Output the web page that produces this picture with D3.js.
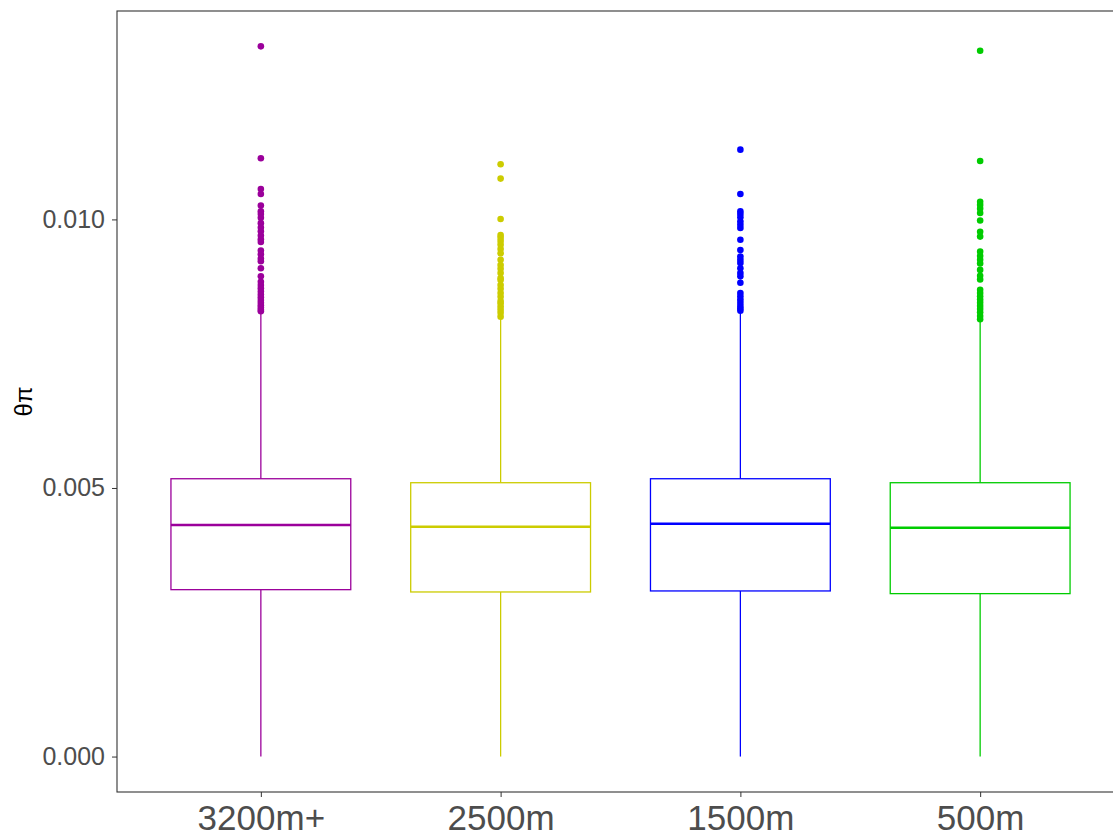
<!DOCTYPE html>
<html>
<head>
<meta charset="utf-8">
<script src="https://cdn.jsdelivr.net/npm/d3@7"></script>
<style>
  body { margin: 0; background: #fff; }
  text { font-family: "Liberation Sans", Arial, sans-serif; }
</style>
</head>
<body>
<div id="content"></div>
<script>
// box summary values
const categories = ["3200m+", "2500m", "1500m", "500m"];
const colors = ["#9b009b", "#cccc00", "#0000ff", "#00cc00"];
const q1 = [0.003107, 0.003064, 0.003083, 0.003033];
const medians = [0.004311, 0.004279, 0.004335, 0.004260];
const q3 = [0.005172, 0.005098, 0.005172, 0.005098];
const whiskLow = [0, 0, 0, 0];
const whiskHigh = [0.00826, 0.00816, 0.00828, 0.00811];

const outliers3200 = [0.013222, 0.011139, 0.010567, 0.010474, 0.010257, 0.01015, 0.01010, 0.01003,
  0.00993, 0.00985, 0.00978, 0.00970, 0.00963, 0.00958, 0.00942, 0.00935, 0.00927, 0.00922,
  0.00909, 0.00894, 0.00884, 0.00878, 0.00872, 0.00866, 0.00860, 0.00855, 0.00850, 0.00845,
  0.00840, 0.00836, 0.00832, 0.00829];
const outliers2500 = [0.011027, 0.010760, 0.010009, 0.00971, 0.00966, 0.00960, 0.00953, 0.00945,
  0.00937, 0.00925, 0.00915, 0.00908, 0.00900, 0.00891, 0.00887, 0.00878, 0.00871, 0.00863,
  0.00856, 0.00848, 0.00844, 0.00838, 0.00832, 0.00826, 0.00819];
const outliers1500 = [0.011299, 0.010474, 0.01015, 0.01010, 0.01004, 0.00996, 0.00990, 0.00984,
  0.00962, 0.00943, 0.00931, 0.00925, 0.00919, 0.00909, 0.00900, 0.00894, 0.00882, 0.00863,
  0.00857, 0.00851, 0.00845, 0.00839, 0.00834, 0.00830];
const outliers500 = [0.013141, 0.011088, 0.01033, 0.01027, 0.01020, 0.01012, 0.00998, 0.00977,
  0.00968, 0.00940, 0.00932, 0.00925, 0.00918, 0.00906, 0.00895, 0.00888, 0.00869, 0.00863,
  0.00857, 0.00851, 0.00845, 0.00839, 0.00833, 0.00827, 0.00820, 0.00814];
const outliers = [outliers3200, outliers2500, outliers1500, outliers500];

const yTicks = [0, 0.005, 0.010];

const w = 1113, h = 838;
const padL = 117, padR = 1124, padT = 11, padB = 792;

const boxes = categories.map((c, i) => ({
  cat: c, color: colors[i], q1: q1[i], med: medians[i], q3: q3[i],
  lo: whiskLow[i], hi: whiskHigh[i], out: outliers[i]
}));

const x = d3.scalePoint().domain(categories).range([padL, padR]).padding(0.6);
const y = d3.scaleLinear().domain([-0.00066, 0.01388]).range([padB, padT]);
const bw = x.step() * 0.75;

const svg = d3.select("#content").append("svg").attr("width", w).attr("height", h);

const g = svg.selectAll("g.box").data(boxes).enter().append("g").attr("class", "box");

// whiskers
g.append("line").attr("x1", d => x(d.cat)).attr("x2", d => x(d.cat))
  .attr("y1", d => y(d.q3)).attr("y2", d => y(d.hi))
  .attr("stroke", d => d.color).attr("stroke-width", 1.3);
g.append("line").attr("x1", d => x(d.cat)).attr("x2", d => x(d.cat))
  .attr("y1", d => y(d.q1)).attr("y2", d => y(d.lo))
  .attr("stroke", d => d.color).attr("stroke-width", 1.3);

// box
g.append("rect")
  .attr("x", d => x(d.cat) - bw / 2).attr("width", bw)
  .attr("y", d => y(d.q3)).attr("height", d => y(d.q1) - y(d.q3))
  .attr("fill", "#fff").attr("stroke", d => d.color).attr("stroke-width", 1.3);

// median
g.append("line")
  .attr("x1", d => x(d.cat) - bw / 2).attr("x2", d => x(d.cat) + bw / 2)
  .attr("y1", d => y(d.med)).attr("y2", d => y(d.med))
  .attr("stroke", d => d.color).attr("stroke-width", 2.6);

// outliers
g.selectAll("circle").data(d => d.out.map(v => ({ v: v, cat: d.cat, color: d.color })))
  .enter().append("circle")
  .attr("cx", d => x(d.cat)).attr("cy", d => y(d.v)).attr("r", 3.3)
  .attr("fill", d => d.color);

// panel border
svg.append("rect").attr("x", padL).attr("y", padT)
  .attr("width", padR - padL).attr("height", padB - padT)
  .attr("fill", "none").attr("stroke", "#333").attr("stroke-width", 1.1);

// axes
const yAxis = d3.axisLeft(y).tickValues(yTicks).tickFormat(d3.format(".3f"))
  .tickSize(5).tickPadding(7);
const ya = svg.append("g").attr("transform", `translate(${padL},0)`).call(yAxis);
ya.select(".domain").remove();
ya.selectAll(".tick line").attr("stroke", "#333");
ya.selectAll(".tick text").attr("fill", "#4d4d4d").style("font-size", "25px")
  .style("font-family", "'Liberation Sans', Arial, sans-serif");

const xAxis = d3.axisBottom(x).tickSize(5).tickPadding(8);
const xa = svg.append("g").attr("transform", `translate(0,${padB})`).call(xAxis);
xa.select(".domain").remove();
xa.selectAll(".tick line").attr("stroke", "#333");
xa.selectAll(".tick text").attr("fill", "#4d4d4d").style("font-size", "35px")
  .style("font-family", "'Liberation Sans', Arial, sans-serif");

// y title
svg.append("text")
  .attr("transform", `translate(32,${(padT + padB) / 2}) rotate(-90)`)
  .attr("text-anchor", "middle")
  .style("font-size", "24px").attr("fill", "#000")
  .text("θπ");
</script>
</body>
</html>
